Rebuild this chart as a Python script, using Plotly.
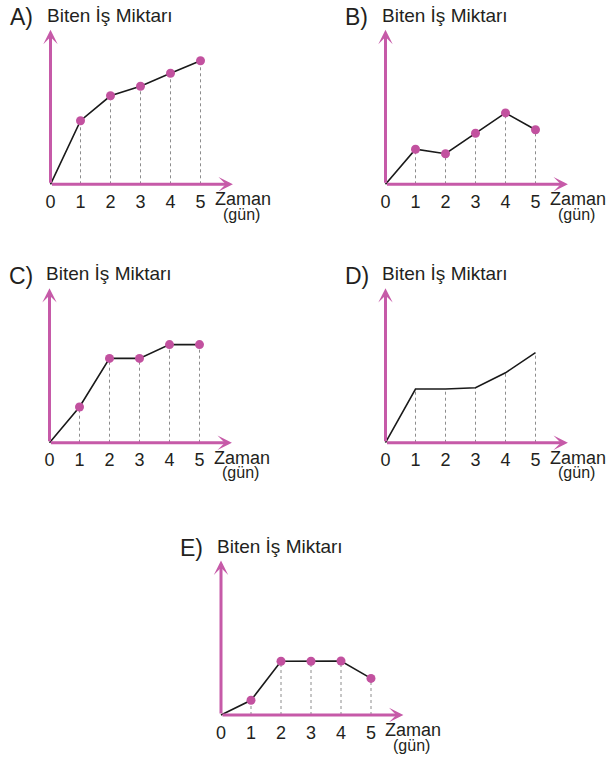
import plotly.graph_objects as go

W, H = 609, 758
UNIT = 30  # pixels per data unit, same on both axes
FONT = "Liberation Sans, Arial, sans-serif"
AXIS_PINK = "#c65aa8"
DOT_PINK = "#c2519f"
TEXT = "#231f20"

days = [0, 1, 2, 3, 4, 5]
day_labels = ["0", "1", "2", "3", "4", "5"]
work_a = [0, 2.12, 2.95, 3.27, 3.70, 4.12]
work_b = [0, 1.17, 1.02, 1.70, 2.38, 1.82]
work_c = [0, 1.19, 2.81, 2.81, 3.27, 3.27]
work_d = [0, 1.79, 1.79, 1.83, 2.33, 3.00]
work_e = [0, 0.49, 1.79, 1.79, 1.80, 1.22]

y_title = "Biten İş Miktarı"
x_title = "Zaman"
x_unit = "(gün)"

X_RANGE = [-0.3, 6.3]
Y_RANGE = [-0.1, 5.3]
X_TIP, Y_TIP = 6.08, 5.15

# letter, values, origin in pixels, markers shown
panels = [
    ("A)", work_a, (50.5, 184.3), True),
    ("B)", work_b, (385.5, 184.3), True),
    ("C)", work_c, (49.5, 442.7), True),
    ("D)", work_d, (385.5, 442.7), False),
    ("E)", work_e, (221.0, 715.0), True),
]


def px(x):
    return x / W


def py(y):
    return 1 - y / H


fig = go.Figure()
annotations = []
layout = {}

for i, (letter, vals, (ox, oy), markers) in enumerate(panels, start=1):
    sfx = "" if i == 1 else str(i)
    xa, ya = f"x{sfx}", f"y{sfx}"

    layout[f"xaxis{sfx}"] = dict(
        domain=[px(ox + X_RANGE[0] * UNIT), px(ox + X_RANGE[1] * UNIT)],
        range=X_RANGE, anchor=ya, showgrid=False, zeroline=False, showline=False,
        tickmode="array", tickvals=days, ticktext=day_labels,
        tickfont=dict(size=18, color=TEXT, family=FONT),
        ticks="outside", ticklen=1, tickcolor="rgba(0,0,0,0)",
        ticklabelstandoff=-3, fixedrange=True,
    )
    layout[f"yaxis{sfx}"] = dict(
        domain=[py(oy - Y_RANGE[0] * UNIT), py(oy - Y_RANGE[1] * UNIT)],
        range=Y_RANGE, anchor=xa, visible=False, fixedrange=True,
    )

    # dotted drop lines
    dx, dy = [], []
    for d, v in zip(days[1:], vals[1:]):
        dx += [d, d, None]
        dy += [0, v, None]
    fig.add_trace(go.Scatter(x=dx, y=dy, mode="lines", xaxis=xa, yaxis=ya,
                             line=dict(color="#8c8c8c", width=1, dash="dot"),
                             hoverinfo="skip", showlegend=False))
    fig.add_trace(go.Scatter(x=days, y=vals, mode="lines", xaxis=xa, yaxis=ya,
                             line=dict(color="#1a1a1a", width=1.6),
                             showlegend=False))
    if markers:
        fig.add_trace(go.Scatter(x=days[1:], y=vals[1:], mode="markers", xaxis=xa, yaxis=ya,
                                 marker=dict(color=DOT_PINK, size=9),
                                 cliponaxis=False, showlegend=False))

    # axis arrows
    for hx, hy in ((X_TIP, 0), (0, Y_TIP)):
        annotations.append(dict(
            x=hx, y=hy, ax=0, ay=0, xref=xa, yref=ya, axref=xa, ayref=ya,
            text="", showarrow=True, arrowhead=3, arrowsize=0.8, arrowwidth=3,
            arrowcolor=AXIS_PINK, standoff=0, startstandoff=0,
        ))

    annotations += [
        dict(x=px(ox - 43), y=py(oy - 167), xref="paper", yref="paper", text=letter,
             xanchor="left", yanchor="middle", showarrow=False,
             font=dict(size=23, color=TEXT, family=FONT)),
        dict(x=px(ox - 6), y=py(oy - 169), xref="paper", yref="paper", text=y_title,
             xanchor="left", yanchor="middle", showarrow=False,
             font=dict(size=19, color=TEXT, family=FONT)),
        dict(x=px(ox + 162), y=py(oy + 15), xref="paper", yref="paper", text=x_title,
             xanchor="left", yanchor="middle", showarrow=False,
             font=dict(size=18, color=TEXT, family=FONT)),
        dict(x=px(ox + 190.5), y=py(oy + 30), xref="paper", yref="paper", text=x_unit,
             xanchor="center", yanchor="middle", showarrow=False,
             font=dict(size=16, color=TEXT, family=FONT)),
    ]

fig.update_layout(
    width=W, height=H, margin=dict(l=0, r=0, t=0, b=0),
    paper_bgcolor="white", plot_bgcolor="rgba(0,0,0,0)",
    annotations=annotations, showlegend=False, **layout,
)
# page body has a default 8px margin; drop it so the figure sits at the corner
fig.write_html("out.html", config={"displayModeBar": False},
               post_script="document.body.style.margin='0';")
